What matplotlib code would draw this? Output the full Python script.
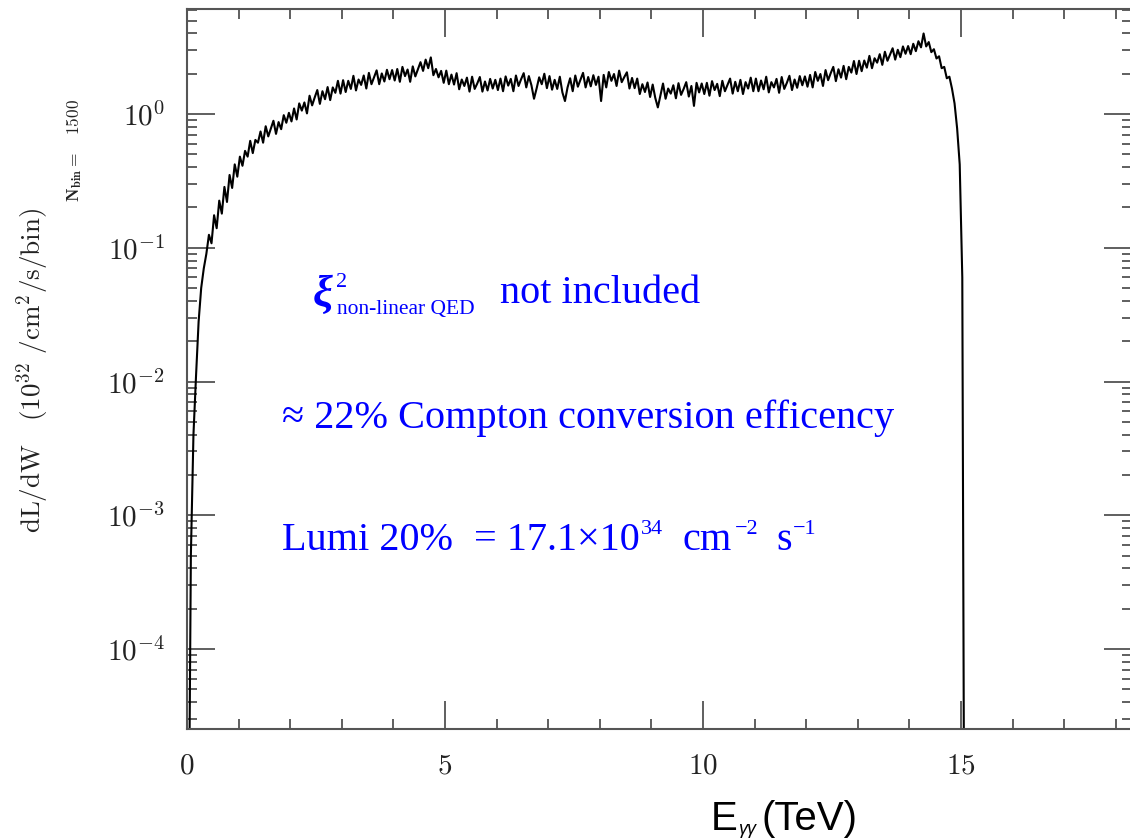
import numpy as np
import matplotlib
matplotlib.use("Agg")
import matplotlib.pyplot as plt
from matplotlib.ticker import FixedLocator, NullFormatter, FuncFormatter, LogLocator

plt.rcParams['mathtext.fontset'] = 'cm'

# ---------------- data ----------------
bin_width = 0.05          # TeV, bin width of the re-binned histogram
first_center = 0.025
# dL/dW per bin (10^32 /cm^2/s/bin), bins 0.025 ... 15.075 TeV
lum_0 = [1e-6, 5e-4, 4e-3, 0.011, 0.028, 0.050, 0.070, 0.090, 0.125, 0.108,
         0.175, 0.14, 0.225, 0.18, 0.285, 0.22, 0.35, 0.28, 0.42, 0.34]
lum_1 = [0.48, 0.41, 0.53, 0.48, 0.63, 0.51, 0.64, 0.61, 0.74, 0.61,
         0.81, 0.68, 0.78, 0.89, 0.71, 0.87, 0.77, 0.98, 0.86, 1.02]
lum_2 = [0.88, 1.10, 0.91, 1.20, 1.06, 1.22, 1.01, 1.37, 1.16, 1.33,
         1.51, 1.19, 1.48, 1.29, 1.59, 1.27, 1.58, 1.44, 1.77, 1.42]
lum_3 = [1.79, 1.46, 1.77, 1.54, 1.93, 1.50, 1.81, 1.65, 1.94, 1.55,
         2.03, 1.67, 1.88, 2.12, 1.67, 2.01, 1.75, 2.14, 1.82, 2.13]
lum_4 = [1.78, 2.17, 1.74, 2.25, 1.92, 2.15, 1.74, 2.27, 1.91, 2.16,
         2.44, 2.10, 2.55, 2.20, 2.65, 1.95, 2.17, 1.88, 2.10, 1.71]
lum_5 = [2.11, 1.67, 1.97, 1.66, 2.02, 1.53, 1.81, 1.62, 1.87, 1.47,
         1.90, 1.54, 1.69, 1.89, 1.47, 1.75, 1.50, 1.83, 1.55, 1.80]
lum_6 = [1.51, 1.84, 1.48, 1.91, 1.63, 1.83, 1.48, 1.94, 1.62, 1.82,
         2.02, 1.58, 1.92, 1.64, 1.30, 1.55, 1.88, 1.67, 2.00, 1.56]
lum_7 = [1.92, 1.52, 1.80, 1.54, 1.90, 1.45, 1.25, 1.58, 1.85, 1.48,
         1.94, 1.60, 1.80, 2.03, 1.58, 1.89, 1.61, 1.95, 1.65, 1.90]
lum_8 = [1.25, 1.96, 1.58, 2.06, 1.77, 1.99, 1.62, 2.11, 1.73, 1.89,
         2.05, 1.55, 1.86, 1.56, 1.84, 1.41, 1.67, 1.46, 1.72, 1.34]
lum_9 = [1.66, 1.32, 1.12, 1.37, 1.69, 1.30, 1.55, 1.42, 1.64, 1.31,
         1.70, 1.39, 1.54, 1.73, 1.35, 1.62, 1.15, 1.71, 1.45, 1.69]
lum_10 = [1.41, 1.71, 1.37, 1.76, 1.51, 1.68, 1.36, 1.77, 1.48, 1.65,
          1.84, 1.42, 1.74, 1.48, 1.80, 1.41, 1.73, 1.55, 1.87, 1.48]
lum_11 = [1.84, 1.48, 1.78, 1.53, 1.90, 1.45, 1.73, 1.58, 1.83, 1.44,
          1.89, 1.54, 1.71, 1.93, 1.51, 1.81, 1.57, 1.92, 1.64, 1.91]
lum_12 = [1.60, 1.96, 1.58, 2.06, 1.77, 1.99, 1.62, 2.13, 1.79, 2.02,
          2.25, 1.76, 2.16, 1.87, 2.29, 1.82, 2.25, 2.04, 2.49, 1.99]
lum_13 = [2.50, 2.09, 2.51, 2.22, 2.72, 2.20, 2.61, 2.42, 2.80, 2.33,
          2.92, 2.50, 2.79, 3.10, 2.55, 3.02, 2.66, 3.20, 2.82, 3.22]
lum_14 = [2.80, 3.35, 2.95, 3.50, 3.15, 4.00, 3.20, 3.45, 2.90, 3.05,
          2.60, 2.70, 2.20, 2.25, 1.85, 1.90, 1.55, 1.20, 0.78, 0.42,
          0.06, 1e-7]

lum = (lum_0 + lum_1 + lum_2 + lum_3 + lum_4 + lum_5 + lum_6 + lum_7 +
       lum_8 + lum_9 + lum_10 + lum_11 + lum_12 + lum_13 + lum_14)
energy = first_center + bin_width * np.arange(len(lum))

x_major = [0, 5, 10, 15]
y_decades = [-4, -3, -2, -1, 0]

# ---------------- figure ----------------
W, H = 1130, 839
fig = plt.figure(figsize=(W / 100, H / 100), dpi=100)

def fx(px):
    return px / W

def fy(py):
    return 1 - py / H

ax_left, ax_right, ax_top, ax_bot = 187, 1132, 9, 729
ax = fig.add_axes([fx(ax_left), fy(ax_bot), (ax_right - ax_left) / W, (ax_bot - ax_top) / H])

ax.plot(energy, lum, color='black', lw=1.5)

ax.set_yscale('log')
ax.set_xlim(0, (ax_right - ax_left) / 51.6)
ax.set_ylim(10 ** -4.598, 10 ** 0.785)

ax.xaxis.set_major_locator(FixedLocator(x_major))
ax.xaxis.set_major_formatter(FuncFormatter(lambda v, p: r'$%d$' % round(v)))
ax.xaxis.set_minor_locator(FixedLocator([v for v in range(0, 19) if v % 5 != 0]))
ax.yaxis.set_major_locator(FixedLocator([10.0 ** d for d in y_decades]))
ax.yaxis.set_major_formatter(FuncFormatter(lambda v, p: r'$10^{%d}$' % round(np.log10(v))))
ax.yaxis.set_minor_locator(LogLocator(base=10, subs=np.arange(2, 10), numticks=20))
ax.yaxis.set_minor_formatter(NullFormatter())

tick_col = '#444444'
ax.tick_params(which='both', direction='in', top=True, right=True, color=tick_col, width=1.2)
ax.tick_params(which='major', length=20)
ax.tick_params(which='minor', length=7)
ax.tick_params(axis='x', which='major', labelsize=21, pad=16, labelcolor='#222222')
ax.tick_params(axis='y', which='major', labelsize=21, pad=16, labelcolor='#222222')
for s in ax.spines.values():
    s.set_color('#555555')
    s.set_linewidth(1.5)

# axis labels
fig.text(fx(33), fy(370), r'$\mathrm{dL/dW}\quad(10^{32}\ /\mathrm{cm}^{2}/\mathrm{s/bin})$',
         rotation=90, ha='center', va='center', fontsize=19.5, color='#222222')
fig.text(fx(74), fy(150), r'$\mathbf{N}_{\mathbf{bin}}\mathbf{=}\quad 1500$',
         rotation=90, ha='center', va='center', fontsize=12.5, color='#222222')

sans = ['Liberation Sans', 'DejaVu Sans']
fig.text(fx(711), fy(830), 'E', family=sans, fontsize=29, va='baseline', ha='left')
fig.text(fx(738), fy(834), 'γγ', family=sans, fontsize=13, style='italic', va='baseline', ha='left')
fig.text(fx(762), fy(830), '(TeV)', family=sans, fontsize=29, va='baseline', ha='left')

# blue annotations
serif = ['Liberation Serif', 'DejaVu Serif']
blue = '#0000ff'
big = 29
small = 16
fig.text(fx(313), fy(306), 'ξ', family=serif, fontsize=32, weight='bold', style='italic',
         color=blue, va='baseline', ha='left')
fig.text(fx(336), fy(287), '2', family=serif, fontsize=small, color=blue, va='baseline', ha='left')
fig.text(fx(337), fy(314), 'non-linear QED', family=serif, fontsize=15.5, color=blue,
         va='baseline', ha='left')
fig.text(fx(500), fy(303), 'not included', family=serif, fontsize=big, color=blue,
         va='baseline', ha='left')

fig.text(fx(282), fy(428), '≈ 22% Compton conversion efficency', family=serif, fontsize=big,
         color=blue, va='baseline', ha='left')

fig.text(fx(282), fy(550), 'Lumi 20%', family=serif, fontsize=big, color=blue, va='baseline', ha='left')
fig.text(fx(474), fy(550), '= 17.1×10', family=serif, fontsize=big, color=blue, va='baseline', ha='left')
fig.text(fx(641), fy(534), '34', family=serif, fontsize=small, color=blue, va='baseline', ha='left')
fig.text(fx(683), fy(550), 'cm', family=serif, fontsize=big, color=blue, va='baseline', ha='left')
fig.text(fx(735), fy(534), '\u22122', family=serif, fontsize=small, color=blue, va='baseline', ha='left')
fig.text(fx(776), fy(550), 's', family=serif, fontsize=big, color=blue, va='baseline', ha='left')
fig.text(fx(793), fy(534), '\u22121', family=serif, fontsize=small, color=blue, va='baseline', ha='left')

fig.savefig('out.png', dpi=100)
